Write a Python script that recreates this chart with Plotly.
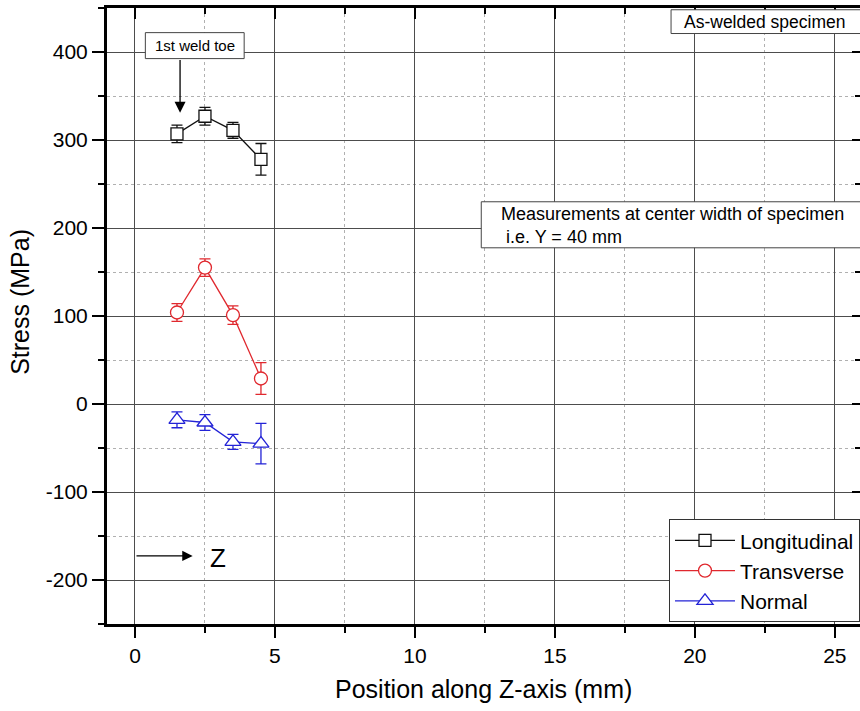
import plotly.graph_objects as go

# ---- data ----
position = [1.5, 2.5, 3.5, 4.5]
longitudinal = [307, 327, 311, 278]
longitudinal_err = [10, 10, 9, 18]
transverse = [104, 155, 101, 29]
transverse_err = [10, 10, 10.5, 18]
normal = [-18, -21, -43, -45]
normal_err = [9, 9, 8.5, 23]

series_names = ["Longitudinal", "Transverse", "Normal"]
x_ticks = [0, 5, 10, 15, 20, 25]
y_ticks = [-200, -100, 0, 100, 200, 300, 400]
y_tick_text = ["-200", "-100", "0", "100", "200", "300", "400"]

FONT = "Liberation Sans, Arial, sans-serif"
BLACK = "#111111"
RED = "#e0282e"
BLUE = "#2323d6"

fig = go.Figure()

def add_series(y, err, name, color, symbol, size):
    fig.add_trace(go.Scatter(
        x=position, y=y, name=name, mode="lines+markers",
        line=dict(color=color, width=1.3),
        marker=dict(symbol=symbol, size=size, color="white",
                    line=dict(color=color, width=1.3)),
        error_y=dict(type="data", array=err, visible=True,
                     color=color, thickness=1.3, width=5.5),
    ))

add_series(longitudinal, longitudinal_err, series_names[0], BLACK, "square", 12)
add_series(transverse, transverse_err, series_names[1], RED, "circle", 13)
add_series(normal, normal_err, series_names[2], BLUE, "triangle-up", 14)

# dummy trace to register mirrored axes
fig.add_trace(go.Scatter(x=[None], y=[None], xaxis="x2", yaxis="y2",
                         showlegend=False, hoverinfo="skip"))

XR = [-1, 25.9]
YR = [-250, 450]

fig.update_layout(
    width=860, height=711,
    margin=dict(l=107, r=0, t=8, b=87),
    paper_bgcolor="white", plot_bgcolor="white",
    font=dict(family=FONT, color="black"),
    showlegend=True,
    legend=dict(x=1, xanchor="right", y=0.003, yanchor="bottom",
                bgcolor="white", bordercolor="#333333", borderwidth=1,
                font=dict(size=21, family=FONT, color="black"),
                itemwidth=60, tracegroupgap=0),
    xaxis=dict(range=XR, tickvals=x_ticks, ticks="outside", ticklen=11,
               tickwidth=2, tickcolor="black",
               showline=True, linewidth=3, linecolor="black",
               showgrid=True, gridcolor="#4d4d4d", gridwidth=1,
               zeroline=False, tickfont=dict(size=21, family=FONT),
               minor=dict(dtick=2.5, tick0=0, ticks="outside", ticklen=6,
                          tickwidth=2, tickcolor="black", showgrid=True,
                          gridcolor="#b0b0b0", griddash="dot", gridwidth=1)),
    yaxis=dict(range=YR, tickvals=y_ticks, ticktext=y_tick_text,
               ticks="outside", ticklen=12,
               tickwidth=2, tickcolor="black",
               showline=True, linewidth=3, linecolor="black",
               showgrid=True, gridcolor="#4d4d4d", gridwidth=1,
               zeroline=False, tickfont=dict(size=21, family=FONT),
               minor=dict(dtick=50, tick0=0, ticks="outside", ticklen=6,
                          tickwidth=2, tickcolor="black", showgrid=True,
                          gridcolor="#b0b0b0", griddash="dot", gridwidth=1)),
    xaxis2=dict(overlaying="x", side="top", range=XR, tickvals=x_ticks,
                ticks="inside", ticklen=11, tickwidth=2, tickcolor="black",
                showticklabels=False, showline=True, linewidth=3,
                linecolor="black", showgrid=False, zeroline=False,
                minor=dict(dtick=2.5, tick0=0, ticks="inside", ticklen=6,
                           tickwidth=2, tickcolor="black", showgrid=False)),
    yaxis2=dict(overlaying="y", side="right", range=YR, tickvals=y_ticks,
                ticks="inside", ticklen=8, tickwidth=2, tickcolor="black",
                showticklabels=False, showline=False, showgrid=False,
                zeroline=False,
                minor=dict(dtick=50, tick0=0, ticks="inside", ticklen=5,
                           tickwidth=2, tickcolor="black", showgrid=False)),
)

# boxes for text notes
box_line = dict(color="#444444", width=1)
fig.add_shape(type="rect", xref="x", yref="y", x0=0.37, x1=3.9, y0=392.5, y1=422,
              line=box_line, fillcolor="white", layer="above")
fig.add_shape(type="rect", xref="x", yref="y", x0=19.15, x1=27, y0=421, y1=448,
              line=box_line, fillcolor="white", layer="above")
fig.add_shape(type="rect", xref="x", yref="y", x0=12.37, x1=27, y0=177.5, y1=229.8,
              line=box_line, fillcolor="white", layer="above")

fig.add_annotation(x=2.14, y=407, xref="x", yref="y", text="1st weld toe",
                   showarrow=False, font=dict(size=15, family=FONT, color="black"))
fig.add_annotation(x=19.55, y=434.6, xref="x", yref="y", text="As-welded specimen",
                   xanchor="left", showarrow=False,
                   font=dict(size=17.5, family=FONT, color="black"))
fig.add_annotation(x=13.0, y=203, xref="x", yref="y",
                   text="Measurements at center width of specimen<br>\u00a0i.e. Y = 40 mm",
                   xanchor="left", align="left", showarrow=False,
                   font=dict(size=18, family=FONT, color="black"))

# arrows
fig.add_annotation(x=1.61, y=331, ax=1.61, ay=392.5, xref="x", yref="y",
                   axref="x", ayref="y", text="", showarrow=True,
                   arrowhead=2, arrowsize=1.7, arrowwidth=1.3, arrowcolor="black")
fig.add_annotation(x=2.06, y=-172.6, ax=0, ay=-172.6, xref="x", yref="y",
                   axref="x", ayref="y", text="", showarrow=True,
                   arrowhead=2, arrowsize=1.6, arrowwidth=1.3, arrowcolor="black")
fig.add_annotation(x=2.97, y=-174.6, xref="x", yref="y", text="Z",
                   showarrow=False, font=dict(size=26, family=FONT, color="black"))

# axis titles
fig.add_annotation(x=0.5, y=0, xref="paper", yref="paper", yanchor="middle",
                   yshift=-65, text="Position along Z-axis (mm)", showarrow=False,
                   font=dict(size=25, family=FONT, color="black"))
fig.add_annotation(x=0, y=0.523, xref="paper", yref="paper", xanchor="center",
                   xshift=-87, textangle=-90, text="Stress (MPa)", showarrow=False,
                   font=dict(size=25, family=FONT, color="black"))

fig.write_html(
    "out.html",
    config={"displayModeBar": False},
    post_script="document.body.style.margin='0';document.body.style.overflow='hidden';",
)
